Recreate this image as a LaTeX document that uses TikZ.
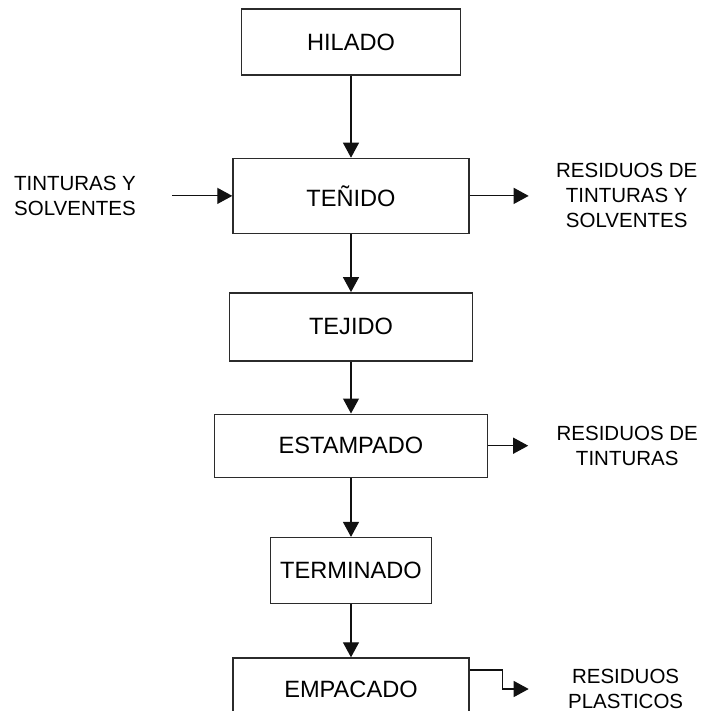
\documentclass[tikz,border=0pt]{standalone}
\usepackage{fontspec}
\setmainfont{Liberation Sans}
\usepackage{tikz}
\usetikzlibrary{arrows.meta,positioning}
\definecolor{ProcInk}{HTML}{111111}
\definecolor{ProcLine}{HTML}{2B2B2B}
\tikzset{
  >={Triangle[length=7.5pt,width=8pt]},
  flow/.style={->,line width=0.6pt,draw=ProcInk},
  procbox/.style={draw=ProcLine,line width=0.7pt,align=center,inner sep=0pt,
    font=\fontsize{11.8}{14}\selectfont},
  sidelabel/.style={align=center,inner sep=0pt,
    font=\fontsize{10.25}{12.5}\selectfont}
}

\begin{document}
\begin{tikzpicture}
  \useasboundingbox (-175.5pt,21pt) rectangle (175.5pt,-334.5pt);
  % main line of the process
  \node[procbox,minimum width=109.5pt,minimum height=33pt] (hilado) {HILADO};
  \node[procbox,minimum width=118pt,minimum height=37.5pt,below=41pt of hilado] (tenido) {TEÑIDO};
  \node[procbox,minimum width=121.5pt,minimum height=34pt,below=29pt of tenido] (tejido) {TEJIDO};
  \node[procbox,minimum width=136.5pt,minimum height=31.5pt,below=26pt of tejido] (estampado) {ESTAMPADO};
  \node[procbox,minimum width=80.5pt,minimum height=33pt,below=29.5pt of estampado] (terminado) {TERMINADO};
  \node[procbox,minimum width=118pt,minimum height=31pt,below=26.5pt of terminado] (empacado) {EMPACADO};
  % inputs and residues
  \node[sidelabel,left=48pt of tenido] (insumos) {TINTURAS Y\\SOLVENTES};
  \node[sidelabel,right=43pt of tenido] (restenido) {RESIDUOS DE\\TINTURAS Y\\SOLVENTES};
  \node[sidelabel,right=34pt of estampado] (resestampado) {RESIDUOS DE\\TINTURAS};
  \node[sidelabel,right=49pt of empacado] (resplastico) {RESIDUOS\\PLASTICOS};
  \draw[flow] (hilado) -- (tenido);
  \draw[flow] (tenido) -- (tejido);
  \draw[flow] (tejido) -- (estampado);
  \draw[flow] (estampado) -- (terminado);
  \draw[flow] (terminado) -- (empacado);
  \draw[flow,shorten <=18pt] (insumos) -- (tenido);
  \draw[flow,shorten >=13.5pt] (tenido) -- (restenido);
  \draw[flow,shorten >=14pt] (estampado) -- (resestampado);
  \draw[flow,shorten >=19.5pt] ([yshift=9.5pt]empacado.east) -- ++(16.5pt,0) |- (resplastico);
\end{tikzpicture}
\end{document}
